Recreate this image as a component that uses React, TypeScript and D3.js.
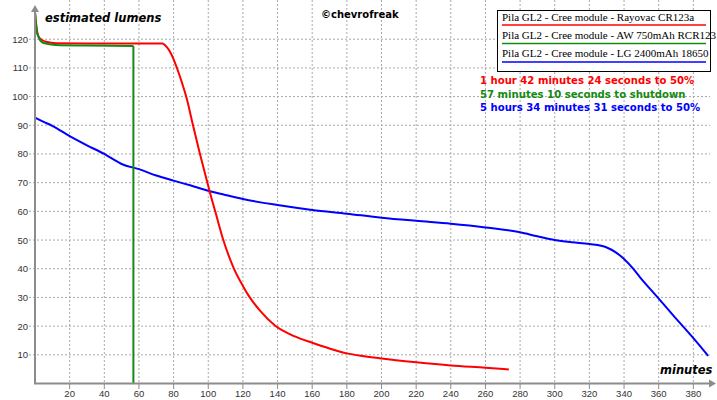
import React from 'react';
import { scaleLinear, line, curveMonotoneX, range } from 'd3';

// minutes, estimated lumens
const rayovac: Array<[number, number]> = [
  [0, 129], [1, 123.5], [2, 121], [4, 119.7], [7, 119], [12, 118.6], [30, 118.5],
  [50, 118.5], [73.5, 118.5], [76, 117.3], [78, 115.5], [80, 113], [82.5, 109],
  [85, 104.5], [87.5, 99.5], [91, 90.5], [95, 80.5], [99, 71.2], [102, 64.3],
  [104.3, 59.4], [108.7, 50], [114.5, 40.5], [120, 34], [123.1, 30.8], [130, 25.3],
  [138.5, 20.2], [150, 16.4], [160, 14.2], [170, 12.2], [180, 10.5], [190, 9.5],
  [200, 8.7], [220, 7.4], [240, 6.3], [260, 5.5], [273.5, 4.9],
];
const awRcr: Array<[number, number]> = [
  [0, 130], [1, 123], [2, 120.8], [4, 119], [7, 118.4], [12, 118], [30, 117.8],
  [56.8, 117.6], [56.8, 0],
];
const lg18650: Array<[number, number]> = [
  [0, 92.7], [5, 91.2], [10, 89.8], [20, 86.2], [30, 83], [40, 80], [45, 78.2],
  [50, 76.5], [60, 74.7], [70, 72.5], [80, 70.7], [90, 69], [100, 67.2], [110, 65.7],
  [120, 64.3], [140, 62.2], [160, 60.5], [180, 59.2], [200, 57.8], [220, 56.7],
  [240, 55.7], [260, 54.4], [280, 52.7], [290, 51.3], [300, 50], [310, 49.2],
  [320, 48.6], [330, 47.4], [335, 45.8], [340, 43.4], [345, 40.2], [349, 37.2],
  [360, 29.6], [368, 24], [380, 15.8], [388.6, 9.6],
];

const legendLabels = [
  'Pila GL2 - Cree module - Rayovac CR123a',
  'Pila GL2 - Cree module - AW 750mAh RCR123',
  'Pila GL2 - Cree module - LG 2400mAh 18650',
];
const notes = [
  '1 hour 42 minutes 24 seconds to 50%',
  '57 minutes 10 seconds to shutdown',
  '5 hours 34 minutes 31 seconds to 50%',
];
const colors = ['#ff0000', '#148a14', '#0000ff'];
const xTicks = range(20, 381, 20);
const yTicks = range(10, 121, 10);

const App: React.FC = () => {
  const width = 717;
  const height = 400;
  const x = scaleLinear().domain([0, 20]).range([35, 69.65]);
  const y = scaleLinear().domain([0, 120]).range([383.5, 39.2]);
  const xEnd = 710;

  const straight = line<[number, number]>()
    .x((d) => x(d[0]))
    .y((d) => y(d[1]));
  const smooth = line<[number, number]>()
    .x((d) => x(d[0]))
    .y((d) => y(d[1]))
    .curve(curveMonotoneX);

  const axisColor = '#8c8c8c';
  const gridColor = '#a8a8a8';

  return (
    <div style={{ position: 'absolute', left: 0, top: 0 }}>
      <svg width={width} height={height} style={{ display: 'block', background: '#fff' }}>
        {/* grid */}
        {xTicks.map((t) => (
          <line key={'gx' + t} x1={x(t)} x2={x(t)} y1={0} y2={383}
            stroke={gridColor} strokeWidth={1} strokeDasharray="2,2" />
        ))}
        {yTicks.map((t) => (
          <line key={'gy' + t} x1={29} x2={xEnd} y1={y(t)} y2={y(t)}
            stroke={gridColor} strokeWidth={1} strokeDasharray="2,2" />
        ))}
        {xTicks.map((t) => (
          <line key={'tx' + t} x1={x(t)} x2={x(t)} y1={383} y2={389} stroke={axisColor} />
        ))}
        {/* tick labels */}
        {yTicks.map((t) => (
          <text key={'ly' + t} x={28} y={y(t) + 3.5} textAnchor="end" fontSize={9.5}
            fontFamily="Liberation Sans, Arial, sans-serif" fill="#333">{t}</text>
        ))}
        {xTicks.map((t) => (
          <text key={'lx' + t} x={x(t)} y={397} textAnchor="middle" fontSize={9.5}
            fontFamily="Liberation Sans, Arial, sans-serif" fill="#333">{t}</text>
        ))}

        {/* series */}
        <path d={smooth(lg18650) || ''} fill="none" stroke={colors[2]} strokeWidth={2} />
        <path d={smooth(rayovac) || ''} fill="none" stroke={colors[0]} strokeWidth={2} />
        <path d={smooth(awRcr.slice(0, 8)) || ''} fill="none" stroke={colors[1]} strokeWidth={2} />
        <path d={straight(awRcr.slice(7)) || ''} fill="none" stroke={colors[1]} strokeWidth={2} />

        {/* axes */}
        <line x1={35} x2={35} y1={12} y2={383.5} stroke={axisColor} strokeWidth={2} />
        <line x1={34} x2={711} y1={383.5} y2={383.5} stroke={axisColor} strokeWidth={2} />
        <path d="M35,5 L31,12 L39,12 Z" fill={axisColor} />
        <path d="M716,383.5 L709,379.5 L709,387.5 Z" fill={axisColor} />

        {/* titles */}
        <text x={45} y={22} fontSize={11.5} fontWeight="bold" fontStyle="italic"
          fontFamily="DejaVu Sans, sans-serif" fill="#000">estimated lumens</text>
        <text x={660} y={374} fontSize={11.5} fontWeight="bold" fontStyle="italic"
          fontFamily="DejaVu Sans, sans-serif" fill="#000">minutes</text>
        <text x={321} y={18} fontSize={10} fontWeight="bold"
          fontFamily="DejaVu Sans, sans-serif" fill="#000">©chevrofreak</text>

        {/* legend */}
        <rect x={497.5} y={10.5} width={213} height={61} fill="#fff" stroke="#000" strokeWidth={1} />
        {legendLabels.map((l, i) => (
          <g key={l}>
            <text x={502} y={21 + i * 18} fontSize={11}
              fontFamily="Liberation Serif, Times New Roman, serif" fill="#000">{l}</text>
            <line x1={502} x2={706} y1={25 + i * 18.5} y2={25 + i * 18.5}
              stroke={colors[i]} strokeWidth={1.5} />
          </g>
        ))}

        {/* notes */}
        {notes.map((n, i) => (
          <text key={n} x={480} y={84 + i * 13.5} fontSize={10.1} fontWeight="bold"
            fontFamily="DejaVu Sans, Verdana, sans-serif" fill={colors[i]}>{n}</text>
        ))}
      </svg>
    </div>
  );
};

export default App;
